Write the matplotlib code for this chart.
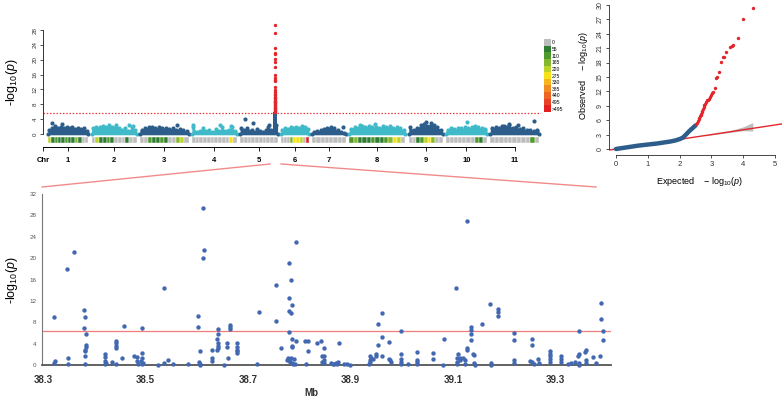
import numpy as np
import matplotlib.pyplot as plt
from matplotlib.colors import ListedColormap, BoundaryNorm
from matplotlib.lines import Line2D

plt.rcParams['font.family'] = ['Liberation Sans', 'DejaVu Sans']
plt.rcParams['mathtext.fontset'] = 'custom'
plt.rcParams['mathtext.rm'] = 'Liberation Sans'
plt.rcParams['mathtext.it'] = 'Liberation Sans:italic'
plt.rcParams['mathtext.bf'] = 'Liberation Sans:bold'

# ---------------- data ----------------
chrom_names = ['1', '2', '3', '4', '5', '6', '7', '8', '9', '10', '11']
chrom_len = [43, 48, 52, 48, 40, 30, 36, 60, 36, 44, 52]
chrom_gap = 3.5

# top of the dense point cloud along each chromosome
cloud_top = [
    [1.0, 1.6, 2.1, 1.7, 2.0, 1.5, 1.9, 1.6, 1.8, 1.4, 1.7, 1.3, 1.5, 0.9],
    [1.6, 2.0, 1.8, 2.2, 1.9, 2.3, 2.0, 2.4, 1.7, 1.0, 1.5, 0.8, 1.9, 1.2],
    [1.0, 1.7, 1.9, 2.0, 1.6, 1.8, 1.5, 1.7, 1.4, 1.6, 1.2, 1.4, 1.0, 0.8],
    [1.9, 0.6, 0.9, 1.6, 0.7, 1.2, 0.6, 1.4, 0.8, 1.9, 0.9, 1.2, 1.8, 0.7],
    [1.5, 1.2, 1.6, 0.8, 1.0, 0.6, 1.3, 0.9, 0.5, 1.0, 2.0, 1.2, 0.8, 2.5],
    [1.0, 1.6, 1.3, 1.8, 1.5, 2.0, 1.7, 2.1, 1.8, 1.4],
    [0.5, 0.8, 1.0, 1.3, 1.7, 2.0, 1.6, 1.0, 0.6, 0.4],
    [1.4, 2.0, 1.7, 2.2, 1.9, 2.1, 1.8, 2.0, 1.7, 2.2, 1.9, 2.1, 1.6, 1.9, 1.5, 1.2],
    [1.8, 1.0, 1.6, 2.4, 2.8, 2.2, 2.9, 2.5, 1.8, 1.2],
    [1.0, 1.5, 1.3, 1.7, 1.5, 1.8, 1.6, 2.0, 2.2, 1.9, 1.6, 1.3],
    [1.6, 2.0, 1.5, 2.2, 1.8, 2.3, 1.6, 1.9, 1.3, 1.5, 1.0, 1.2, 0.8, 1.0],
]

# SNP density bins along each chromosome
density = [
    [190, 30, 80, 30, 30, 80, 30, 30, 130, 30, 0, 0],
    [0, 190, 30, 30, 80, 30, 0, 0, 0, 30, 0, 0],
    [0, 0, 80, 30, 30, 80, 30, 0, 0, 130, 190, 0],
    [0, 0, 0, 0, 0, 0, 0, 0, 0, 0, 250, 0],
    [0, 0, 0, 0, 0, 0, 0, 0, 0, 0],
    [0, 0, 0, 130, 250, 250, 190, 0, 500],
    [0, 0, 0, 0, 0, 0, 0, 0],
    [80, 130, 30, 30, 30, 80, 30, 30, 80, 130, 250, 190, 0],
    [0, 0, 30, 80, 190, 250, 130, 0, 0],
    [0, 0, 0, 0, 0, 0, 0, 80, 30, 0],
    [0, 0, 0, 0, 0, 0, 0, 0, 0, 80, 0],
]

out_chr = [1, 1, 2, 2, 3, 4, 4, 4, 5, 5, 5, 7, 8, 8, 9, 10, 11, 11, 11, 11]
out_pos = [4.3, 14.9, 40, 44, 40, 1, 30, 42, 5.2, 13.7, 31, 33, 11.5, 27, 18, 22.6, 14.5, 19.9, 30, 46.6]
out_val = [2.9, 2.7, 2.3, 2.2, 2.3, 2.4, 2.4, 2.2, 4.0, 3.1, 2.4, 2.0, 2.5, 2.6, 3.2, 3.3, 2.2, 2.7, 2.3, 3.6]

peak_chr = 5
peak_pos = 37.5
peak_hits = [29.4, 27.1, 23.2, 21.7, 21.5, 20.1, 19.5, 18.0, 15.9, 15.0, 14.6, 14.4,
             12.7, 11.8, 11.3, 10.9, 10.4, 10.0, 9.8, 9.6, 9.2, 9.0, 8.7, 8.5, 8.3,
             8.0, 7.8, 7.6, 7.4, 7.1, 6.9, 6.7, 6.5, 6.3, 6.1, 5.9]
peak_below = [0.3, 0.8, 1.3, 1.8, 2.3, 2.8, 3.3, 3.8, 4.3, 4.8, 5.3]
threshold = 5.65

dens_levels = [0, 55, 110, 165, 220, 275, 330, 385, 440, 495]
dens_labels = ['0', '55', '110', '165', '220', '275', '330', '385', '440', '495', '>495']
dens_colors = ['#bdbdbd', '#2e7d32', '#4e9a2c', '#84b82e', '#bcd32a', '#f6e21a',
               '#f7b41d', '#f28c22', '#ee6524', '#e84326', '#e3201f']

qq_exp_bulk = [0.0, 0.1, 0.2, 0.35, 0.5, 0.7, 0.9, 1.1, 1.3, 1.5, 1.7, 1.85,
               2.0, 2.1, 2.2, 2.3, 2.4, 2.45, 2.5]
qq_obs_bulk = [0.0, 0.1, 0.2, 0.35, 0.5, 0.7, 0.85, 1.0, 1.15, 1.35, 1.55, 1.75,
               2.05, 2.35, 3.0, 3.7, 4.3, 4.6, 4.9]
qq_exp_hits = [2.52, 2.55, 2.58, 2.6, 2.62, 2.64, 2.66, 2.68, 2.7, 2.72, 2.74, 2.76,
               2.78, 2.8, 2.82, 2.85, 2.88, 2.92, 2.96, 3.0, 3.03, 3.06, 3.10, 3.13,
               3.19, 3.25, 3.29, 3.35, 3.39, 3.46, 3.58, 3.64, 3.69, 3.83, 4.0, 4.3]
qq_obs_hits = [5.2, 5.5, 5.9, 6.2, 6.5, 6.8, 7.0, 7.3, 7.6, 7.9, 8.3, 8.7,
               9.1, 9.4, 9.8, 10.1, 10.3, 10.5, 10.9, 11.3, 11.7, 11.9, 12.8, 14.7,
               15.0, 16.0, 18.1, 19.2, 19.2, 20.1, 21.3, 21.5, 21.7, 23.2, 27.0, 29.3]
qq_band_x = [2.8, 3.2, 3.6, 4.0, 4.3]
qq_band_lo = [2.75, 3.1, 3.45, 3.8, 3.75]
qq_band_hi = [2.85, 3.35, 3.85, 4.6, 5.5]

# zoomed region on chromosome 5 (Mb, -log10 p)
region_points = [
    (38.321, 9.0), (38.321, 0.3), (38.324, 0.8), (38.346, 18.0), (38.360, 21.1),
    (38.349, 1.3), (38.348, 0.1), (38.380, 10.3), (38.382, 8.9), (38.380, 7.0),
    (38.384, 5.75), (38.384, 3.75), (38.383, 3.4), (38.382, 2.9), (38.382, 2.6),
    (38.381, 1.75), (38.382, 0.2), (38.421, 2.0), (38.421, 1.5), (38.421, 0.75),
    (38.423, 0.3), (38.420, 0.1), (38.435, 0.55), (38.442, 0.25), (38.443, 4.5),
    (38.443, 4.1), (38.443, 3.6), (38.442, 3.1), (38.457, 7.25), (38.455, 1.3),
    (38.478, 1.75), (38.484, 1.5), (38.493, 2.2), (38.494, 6.9), (38.484, 0.7),
    (38.485, 0.1), (38.491, 0.7), (38.493, 0.1), (38.496, 0.45), (38.494, 1.4),
    (38.536, 14.4), (38.524, 0.0), (38.536, 0.4), (38.543, 0.9), (38.554, 0.1),
    (38.612, 29.3), (38.614, 21.6), (38.613, 20.0), (38.602, 9.25), (38.602, 7.05),
    (38.606, 2.7), (38.605, 0.6), (38.606, 0.2), (38.606, 0.0), (38.583, 0.1),
    (38.629, 2.75), (38.629, 1.25), (38.630, 0.8), (38.641, 6.75), (38.641, 5.8),
    (38.640, 4.9), (38.641, 4.1), (38.641, 3.5), (38.641, 3.1), (38.640, 2.9),
    (38.653, 0.0), (38.659, 4.1), (38.659, 3.4), (38.660, 1.3), (38.665, 7.45),
    (38.665, 7.05), (38.665, 6.7), (38.679, 4.2), (38.679, 3.4), (38.678, 2.9),
    (38.678, 2.6), (38.679, 2.2), (38.717, 0.1), (38.722, 9.95), (38.754, 15.0),
    (38.755, 8.3), (38.765, 3.1), (38.779, 19.1), (38.794, 23.1), (38.784, 15.9),
    (38.779, 12.6), (38.785, 11.25), (38.779, 10.1), (38.784, 9.8), (38.779, 6.2),
    (38.785, 4.9), (38.786, 3.6), (38.786, 3.3), (38.794, 4.5), (38.811, 4.5),
    (38.816, 4.4), (38.816, 2.6), (38.778, 1.4), (38.780, 1.0), (38.782, 0.6),
    (38.785, 0.3), (38.788, 0.1), (38.776, 0.9), (38.790, 1.2), (38.792, 0.2),
    (38.783, 1.3), (38.813, 0.2), (38.835, 4.2), (38.843, 4.4), (38.845, 1.6),
    (38.845, 0.6), (38.848, 3.1), (38.848, 1.75), (38.848, 0.9), (38.848, 0.4),
    (38.862, 0.3), (38.865, 0.2), (38.868, 0.1), (38.871, 0.3), (38.874, 0.1),
    (38.876, 0.5), (38.877, 4.1), (38.887, 0.2), (38.893, 0.1), (38.898, 0.0),
    (38.936, 0.1), (38.937, 0.5), (38.938, 0.9), (38.940, 1.3), (38.938, 1.6),
    (38.944, 1.1), (38.950, 2.0), (38.950, 1.7), (38.954, 3.75), (38.954, 7.75),
    (38.961, 9.8), (38.961, 5.3), (38.961, 1.6), (38.975, 4.25), (38.977, 0.9),
    (38.979, 0.6), (38.974, 1.1), (38.998, 6.45), (38.998, 2.0), (38.998, 1.1),
    (38.998, 0.5), (38.998, 0.2), (39.012, 0.2), (39.029, 2.5), (39.029, 0.9),
    (39.029, 0.5), (39.029, 0.2), (39.061, 2.3), (39.061, 1.1), (39.083, 4.9),
    (39.080, 0.0), (39.106, 14.4), (39.109, 2.0), (39.108, 1.3), (39.108, 0.6),
    (39.108, 0.2), (39.127, 26.9), (39.134, 7.05), (39.134, 6.55), (39.134, 5.75),
    (39.134, 4.75), (39.128, 3.25), (39.128, 2.9), (39.138, 2.1), (39.140, 1.9),
    (39.119, 1.4), (39.123, 0.9), (39.124, 0.2), (39.140, 0.3), (39.143, 0.0),
    (39.113, 1.4), (39.113, 0.9), (39.157, 7.6), (39.171, 11.4), (39.173, 0.35),
    (39.173, 0.0), (39.188, 10.4), (39.188, 10.0), (39.188, 9.1), (39.218, 5.95),
    (39.218, 4.75), (39.218, 0.9), (39.218, 0.35), (39.254, 4.9), (39.254, 3.7),
    (39.250, 0.8), (39.254, 0.5), (39.258, 0.1), (39.265, 1.1), (39.268, 0.3),
    (39.289, 2.7), (39.289, 2.1), (39.289, 1.6), (39.289, 1.1), (39.289, 0.6),
    (39.310, 1.6), (39.310, 1.1), (39.310, 0.6), (39.324, 0.2), (39.330, 0.4),
    (39.338, 0.6), (39.346, 6.45), (39.344, 1.7), (39.346, 2.0), (39.346, 0.35),
    (39.346, 0.0), (39.360, 2.8), (39.357, 2.5), (39.360, 0.9), (39.360, 0.3),
    (39.373, 1.5), (39.386, 1.6), (39.389, 11.55), (39.388, 8.55), (39.393, 6.45),
    (39.392, 4.6), (39.378, 0.3),
]
region_threshold = 6.4
region_ticks = [38.3, 38.5, 38.7, 38.9, 39.1, 39.3]

# ---------------- layout helpers (pixel boxes) ----------------
W, H = 784, 398


def px_box(x0, y0, x1, y1):
    return [x0 / W, 1 - y1 / H, (x1 - x0) / W, (y1 - y0) / H]


def px_pt(x, y):
    return (x / W, 1 - y / H)


dark = '#2d5d8b'
cyan = '#40bac8'
red = '#e3262b'
pink = '#f28a8a'
dot_blue = '#4168b0'

fig = plt.figure(figsize=(7.84, 3.98), dpi=100)

starts = np.cumsum([0] + [l + chrom_gap for l in chrom_len[:-1]])
centers = starts + np.array(chrom_len) / 2.0
xlim_top = (-5.3, 526.1)

# ---------------- Manhattan ----------------
ax = fig.add_axes(px_box(43, 22.6, 541, 135.9))
ax.set_xlim(*xlim_top)
ax.set_ylim(-0.5, 30)
for i in range(len(chrom_len)):
    col = dark if i % 2 == 0 else cyan
    h = np.array(cloud_top[i])
    xs = starts[i] + (np.arange(len(h)) + 0.5) * chrom_len[i] / len(h)
    xf = np.concatenate([[starts[i]], xs, [starts[i] + chrom_len[i]]])
    hf = np.concatenate([[h[0]], h, [h[-1]]])
    ax.fill_between(xf, -0.2, hf, color=col, lw=0)
    ax.scatter(xs, h, s=9, color=col, lw=0, clip_on=False)
    ax.scatter([starts[i], starts[i] + chrom_len[i]], [0.1, 0.1], s=9, color=col, lw=0)

for c, p, v in zip(out_chr, out_pos, out_val):
    col = dark if (c - 1) % 2 == 0 else cyan
    ax.scatter(starts[c - 1] + p, v, s=9, color=col, lw=0, clip_on=False)

px5 = starts[peak_chr - 1] + peak_pos
ax.scatter([px5] * len(peak_below), peak_below, s=12, color=dark, lw=0, marker='s')
ax.scatter([px5] * len(peak_hits), peak_hits, s=6, color=red, lw=0, clip_on=False)
ax.axhline(threshold, color='#e8383c', lw=0.9, ls=(0, (1.2, 1.4)))

for s in ['top', 'right', 'bottom']:
    ax.spines[s].set_visible(False)
ax.spines['left'].set_bounds(0, 28)
ax.spines['left'].set_linewidth(0.7)
ax.spines['left'].set_color('#333333')
ax.set_xticks([])
ax.set_yticks(np.arange(0, 29, 4))
ax.tick_params(axis='y', labelsize=4.5, length=2.5, width=0.6, pad=1.5,
               labelrotation=90, colors='#333333')
for lab in ax.get_yticklabels():
    lab.set_va('center')

# density strip + chromosome axis
cmap = ListedColormap(dens_colors)
norm = BoundaryNorm([0, 1] + dens_levels[1:] + [1e4], len(dens_colors))
axs = fig.add_axes(px_box(43, 137, 541, 143))
axs.set_xlim(*xlim_top)
axs.set_ylim(0, 1)
for i in range(len(chrom_len)):
    d = np.array(density[i])
    bw = chrom_len[i] / len(d)
    xs = starts[i] + (np.arange(len(d)) + 0.5) * bw
    axs.bar(xs, 1, width=bw, bottom=0, color=cmap(norm(d)), edgecolor='white',
            linewidth=0.3)
for s in ['top', 'right', 'left']:
    axs.spines[s].set_visible(False)
axs.spines['bottom'].set_position(('outward', 3))
axs.spines['bottom'].set_bounds(xlim_top[0], centers[-1])
axs.spines['bottom'].set_linewidth(0.7)
axs.set_yticks([])
axs.set_xticks([xlim_top[0]] + list(centers))
axs.set_xticklabels(['Chr'] + chrom_names, fontsize=5.5, fontweight='bold')
axs.tick_params(axis='x', length=3, width=0.6, pad=4)

# density legend
axl = fig.add_axes(px_box(544, 39, 551, 112))
axl.barh(np.arange(len(dens_colors)), 1, height=1, color=dens_colors, lw=0)
axl.set_ylim(len(dens_colors) - 0.5, -0.5)
axl.set_xlim(0, 1)
for s in axl.spines.values():
    s.set_visible(False)
axl.set_xticks([])
axl.yaxis.tick_right()
axl.set_yticks(np.arange(len(dens_colors)))
axl.set_yticklabels(dens_labels, fontsize=3.6)
axl.tick_params(axis='y', length=0, pad=0.8)

fig.text(*px_pt(12, 82), '-log$_{10}$($\\mathit{p}$)', rotation=90,
         ha='center', va='center', fontsize=9)

# ---------------- QQ plot ----------------
axq = fig.add_axes(px_box(609, 2, 782, 155))
axq.set_xlim(-0.22, 5.22)
axq.set_ylim(-1.25, 30.6)
axq.fill_between(qq_band_x, qq_band_lo, qq_band_hi, color='#bdbdbd', lw=0, zorder=1)
axq.axline((0, 0), slope=1, color=red, lw=1.0, zorder=2)
axq.plot(qq_exp_bulk, qq_obs_bulk, color=dark, lw=3.2, solid_capstyle='round', zorder=3)
axq.scatter(qq_exp_hits, qq_obs_hits, s=6, color=red, lw=0, zorder=4)
for s in ['top', 'right']:
    axq.spines[s].set_visible(False)
axq.spines['left'].set_bounds(0, 30)
axq.spines['bottom'].set_bounds(0, 5)
for s in ['left', 'bottom']:
    axq.spines[s].set_linewidth(0.7)
    axq.spines[s].set_color('#444444')
axq.set_yticks(np.arange(0, 31, 3))
axq.set_xticks(np.arange(0, 6, 1))
axq.tick_params(axis='y', labelsize=5, length=2.5, width=0.6, pad=1.5,
                labelrotation=90, colors='#333333')
axq.tick_params(axis='x', labelsize=5.5, length=2.5, width=0.6, pad=2,
                colors='#333333')
for lab in axq.get_yticklabels():
    lab.set_va('center')
fig.text(*px_pt(700, 182), 'Expected    $-$ log$_{10}$($\\mathit{p}$)',
         ha='center', va='center', fontsize=6.5)
fig.text(*px_pt(584, 76), 'Observed    $-$ log$_{10}$($\\mathit{p}$)', rotation=90,
         ha='center', va='center', fontsize=6.5)

# ---------------- zoomed region ----------------
rp = np.array(region_points)
axz = fig.add_axes(px_box(42, 194, 611, 365))
axz.set_xlim(38.298, 39.408)
axz.set_ylim(0, 32)
axz.axhline(region_threshold, color='#f47b7b', lw=0.9, zorder=1)
axz.scatter(rp[:, 0], rp[:, 1], s=10, color=dot_blue, lw=0, zorder=3, clip_on=False)
for s in ['top', 'right']:
    axz.spines[s].set_visible(False)
axz.spines['left'].set_color('#777777')
axz.spines['left'].set_linewidth(0.8)
axz.spines['bottom'].set_color('#555555')
axz.spines['bottom'].set_linewidth(1.3)
axz.set_xticks(region_ticks)
axz.set_xticklabels(['%.1f' % t for t in region_ticks], fontsize=7, fontweight='bold',
                    color='#333333')
axz.set_yticks(np.arange(0, 33, 4))
axz.tick_params(axis='x', length=0, pad=7)
axz.tick_params(axis='y', length=0, pad=4, labelsize=4.5, colors='#555555')
fig.text(*px_pt(12, 280), '-log$_{10}$($\\mathit{p}$)', rotation=90,
         ha='center', va='center', fontsize=9)
fig.text(*px_pt(311, 393), 'Mb', ha='center', va='center', fontsize=7,
         fontweight='bold', color='#333333')

# zoom connectors
for (a, b) in [((42, 187), (270, 164)), ((281, 164), (596, 187))]:
    p0, p1 = px_pt(*a), px_pt(*b)
    fig.add_artist(Line2D([p0[0], p1[0]], [p0[1], p1[1]], transform=fig.transFigure,
                          color=pink, lw=1.0))

fig.savefig('out.png', dpi=100)
